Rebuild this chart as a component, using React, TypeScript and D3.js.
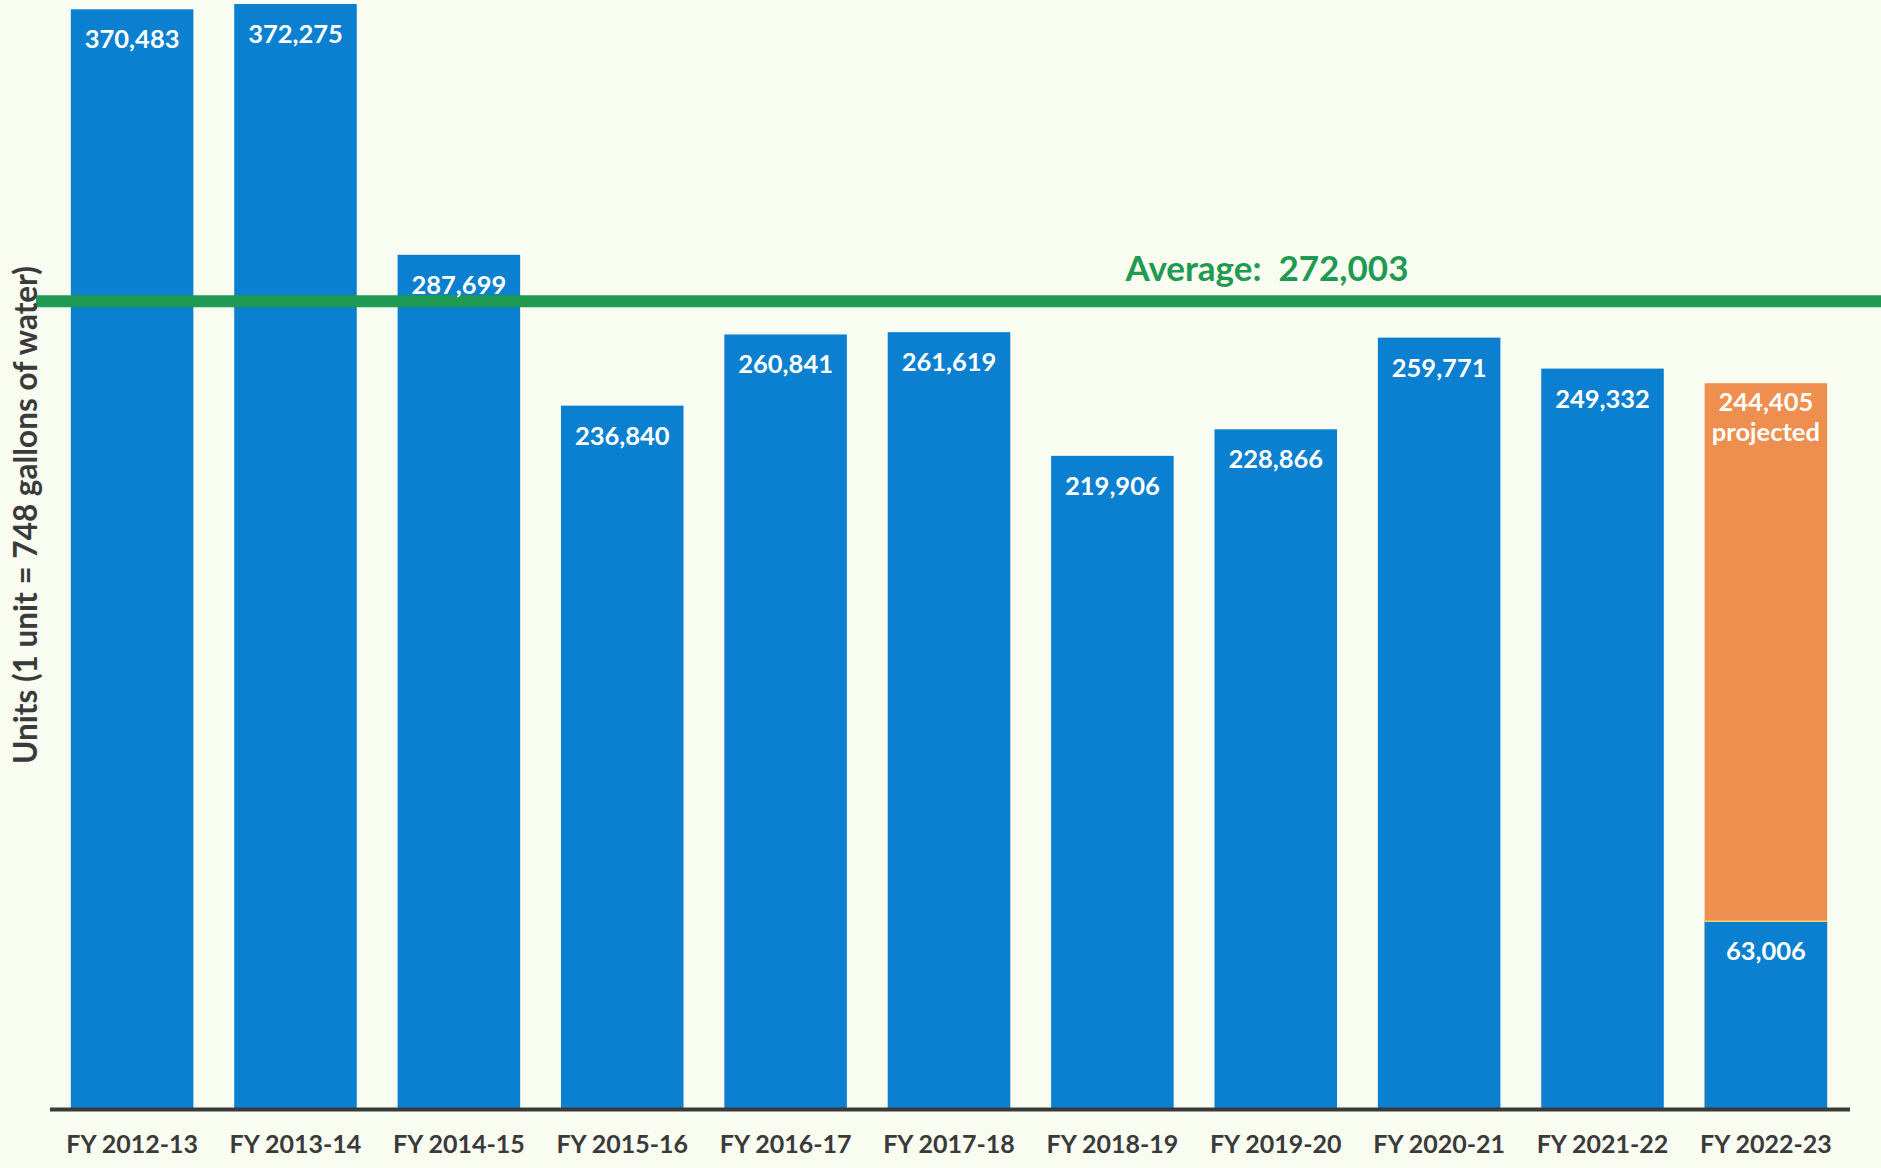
import { useEffect, useRef } from "react";
import * as d3 from "d3";

const fiscalYears = ["FY 2012-13", "FY 2013-14", "FY 2014-15", "FY 2015-16", "FY 2016-17", "FY 2017-18", "FY 2018-19", "FY 2019-20", "FY 2020-21", "FY 2021-22", "FY 2022-23"];
const units = [370483, 372275, 287699, 236840, 260841, 261619, 219906, 228866, 259771, 249332, 244405];
// last year is only partly in: actual to date, rest is projected
const actualToDate = 63006;
const projectedYear = "FY 2022-23";

const W = 1881;
const H = 1168;
const blue = "#0b7fd0";
const orange = "#ee8f4f";
const green = "#1f9a52";
const ink = "#3a3a3a";
const font = "Lato, 'Open Sans', sans-serif";

export default function App() {
  const svgRef = useRef<SVGSVGElement>(null);

  useEffect(() => {
    const svg = d3.select(svgRef.current);
    svg.selectAll("*").remove();

    const x = d3.scaleBand().domain(fiscalYears).range([30, 1868]).padding(0.25);
    const y = d3.scaleLinear().domain([0, d3.max(units)]).range([1108, 4]);
    const fmt = d3.format(",");
    const average = d3.mean(units);

    svg.append("rect").attr("width", W).attr("height", H).attr("fill", "#f9fcf0");

    const rows = fiscalYears.map((yr, i) => ({
      yr,
      total: units[i],
      actual: yr === projectedYear ? actualToDate : units[i],
    }));

    // full bars (orange part for the projected year)
    svg.append("g")
      .selectAll("rect")
      .data(rows)
      .join("rect")
      .attr("x", d => x(d.yr))
      .attr("width", x.bandwidth())
      .attr("y", d => y(d.total))
      .attr("height", d => y(0) - y(d.total))
      .attr("fill", d => (d.yr === projectedYear ? orange : blue));

    const proj = rows.filter(d => d.yr === projectedYear);
    svg.append("g")
      .selectAll("rect")
      .data(proj)
      .join("rect")
      .attr("x", d => x(d.yr))
      .attr("width", x.bandwidth())
      .attr("y", d => y(d.actual))
      .attr("height", d => y(0) - y(d.actual))
      .attr("fill", blue);
    svg.append("g")
      .selectAll("line")
      .data(proj)
      .join("line")
      .attr("x1", d => x(d.yr))
      .attr("x2", d => x(d.yr) + x.bandwidth())
      .attr("y1", d => y(d.actual))
      .attr("y2", d => y(d.actual))
      .attr("stroke", "#f2d36a")
      .attr("stroke-width", 1.5);

    // average line
    svg.append("line")
      .attr("x1", 36)
      .attr("x2", W)
      .attr("y1", y(average))
      .attr("y2", y(average))
      .attr("stroke", green)
      .attr("stroke-width", 12);

    svg.append("text")
      .attr("x", 1267)
      .attr("y", y(average) - 20)
      .attr("text-anchor", "middle")
      .attr("font-family", font)
      .attr("font-weight", 700)
      .attr("font-size", 35)
      .attr("fill", green)
      .text(`Average:\u00a0\u00a0${fmt(Math.round(average))}`);

    const labels = svg.append("g")
      .attr("font-family", font)
      .attr("font-weight", 700)
      .attr("font-size", 25.5)
      .attr("fill", "#fff")
      .attr("text-anchor", "middle");

    labels.selectAll("text.val")
      .data(rows.filter(d => d.yr !== projectedYear))
      .join("text")
      .attr("class", "val")
      .attr("x", d => x(d.yr) + x.bandwidth() / 2)
      .attr("y", d => y(d.total) + 39)
      .text(d => fmt(d.total));

    proj.forEach(d => {
      const cx = x(d.yr) + x.bandwidth() / 2;
      labels.append("text").attr("x", cx).attr("y", y(d.total) + 28).text(fmt(d.total));
      labels.append("text").attr("x", cx).attr("y", y(d.total) + 58).text("projected");
      labels.append("text").attr("x", cx).attr("y", y(d.actual) + 39).text(fmt(d.actual));
    });

    // baseline
    svg.append("line")
      .attr("x1", 50)
      .attr("x2", 1850)
      .attr("y1", 1109.5)
      .attr("y2", 1109.5)
      .attr("stroke", ink)
      .attr("stroke-width", 4);

    svg.append("g")
      .attr("font-family", font)
      .attr("font-weight", 700)
      .attr("font-size", 25)
      .attr("fill", ink)
      .attr("text-anchor", "middle")
      .selectAll("text")
      .data(fiscalYears)
      .join("text")
      .attr("x", d => x(d) + x.bandwidth() / 2)
      .attr("y", 1153)
      .text(d => d);

    svg.append("text")
      .attr("transform", "translate(37,515) rotate(-90)")
      .attr("text-anchor", "middle")
      .attr("font-family", font)
      .attr("font-weight", 700)
      .attr("font-size", 31.5)
      .attr("fill", ink)
      .text("Units (1 unit = 748 gallons of water)");
  }, []);

  return (
    <svg
      ref={svgRef}
      width={W}
      height={H}
      style={{ position: "absolute", left: 0, top: 0, display: "block" }}
    />
  );
}
